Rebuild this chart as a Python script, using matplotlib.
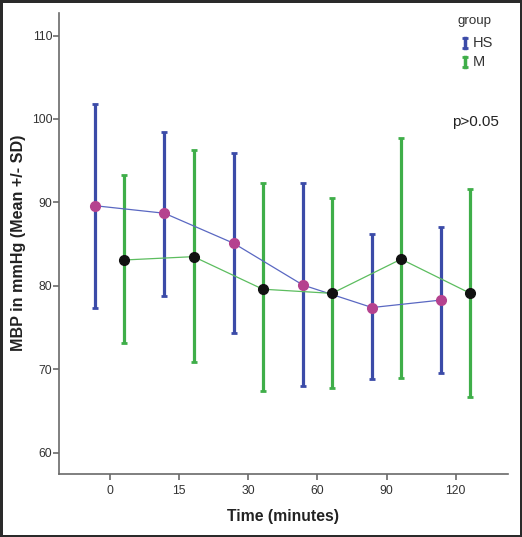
import matplotlib
matplotlib.use('Agg')
import matplotlib.pyplot as plt
import numpy as np

plt.rcParams['font.family'] = ['Liberation Sans', 'DejaVu Sans']

# time points (categorical x axis)
times = ['0', '15', '30', '60', '90', '120']

# group HS: mean, mean+SD, mean-SD
hs_mean = [89.6, 88.7, 85.1, 80.1, 77.4, 78.3]
hs_upper = [101.8, 98.4, 95.9, 92.3, 86.2, 87.1]
hs_lower = [77.4, 78.8, 74.4, 68.0, 68.8, 69.6]

# group M
m_mean = [83.1, 83.5, 79.6, 79.1, 83.2, 79.1]
m_upper = [93.3, 96.3, 92.3, 90.5, 97.7, 91.6]
m_lower = [73.1, 70.9, 67.4, 67.8, 68.9, 66.7]

blue = '#3b4ba8'
green = '#3fae49'
axis_col = '#6a6a6a'

fig = plt.figure(figsize=(5.22, 5.37), dpi=100)
fig.patch.set_edgecolor('#2a2a2a')
fig.patch.set_linewidth(2.5)
ax = fig.add_axes([0.1136, 0.1173, 0.859, 0.8585])

x = np.arange(len(times))
off = 0.21


def draw_group(xpos, mean, upper, lower, bar_col, line_col, dot_col):
    mean = np.array(mean)
    yerr = [mean - np.array(lower), np.array(upper) - mean]
    ax.errorbar(xpos, mean, yerr=yerr, fmt='none', ecolor=bar_col,
                elinewidth=2.3, capsize=2.3, capthick=2.0, zorder=2)
    ax.plot(xpos, mean, color=line_col, linewidth=0.9, zorder=3)
    ax.plot(xpos, mean, linestyle='none', marker='o', markersize=7,
            markerfacecolor=dot_col, markeredgecolor=dot_col, zorder=4)


draw_group(x - off, hs_mean, hs_upper, hs_lower, blue, '#5a68c2', '#b5428f')
draw_group(x + off, m_mean, m_upper, m_lower, green, '#5cbd5f', '#111111')

ax.set_xlim(-0.73, 5.75)
ax.set_ylim(57.45, 112.7)
ax.set_xticks(x)
ax.set_xticklabels(times)
ax.set_yticks([60, 70, 80, 90, 100, 110])

for s in ['top', 'right']:
    ax.spines[s].set_visible(False)
for s in ['left', 'bottom']:
    ax.spines[s].set_color(axis_col)
    ax.spines[s].set_linewidth(1.2)
ax.tick_params(axis='both', colors=axis_col, labelcolor='#333333',
               labelsize=8.8, length=4, width=1.2, direction='out')
ax.tick_params(axis='x', pad=4)
ax.tick_params(axis='y', pad=1)

fig.text(0.036, 0.547, 'MBP in mmHg (Mean +/- SD)', rotation=90,
         ha='center', va='center', fontsize=11.6, fontweight='bold', color='#222222')
fig.text(0.543, 0.038, 'Time (minutes)', ha='center', va='center',
         fontsize=11.3, fontweight='bold', color='#222222')

# legend drawn by hand to get the "I" shaped error-bar icons
ax.text(0.9255, 0.983, 'group', transform=ax.transAxes, ha='center',
        va='center', fontsize=9.6, color='#333333')
for yc, col, name in [(0.934, blue, 'HS'), (0.894, green, 'M')]:
    ax.plot([0.9048, 0.9048], [yc - 0.011, yc + 0.011], transform=ax.transAxes,
            color=col, linewidth=2.5, clip_on=False)
    ax.plot([0.9048, 0.9048], [yc - 0.011, yc + 0.011], transform=ax.transAxes,
            color=col, linestyle='none', marker='_', markersize=5,
            markeredgewidth=2, clip_on=False)
    ax.text(0.922, yc, name, transform=ax.transAxes, ha='left', va='center',
            fontsize=10.5, color='#333333')

ax.text(0.875, 0.764, 'p>0.05', transform=ax.transAxes, ha='left',
        va='center', fontsize=11, color='#222222')

fig.savefig('out.png', dpi=100)
